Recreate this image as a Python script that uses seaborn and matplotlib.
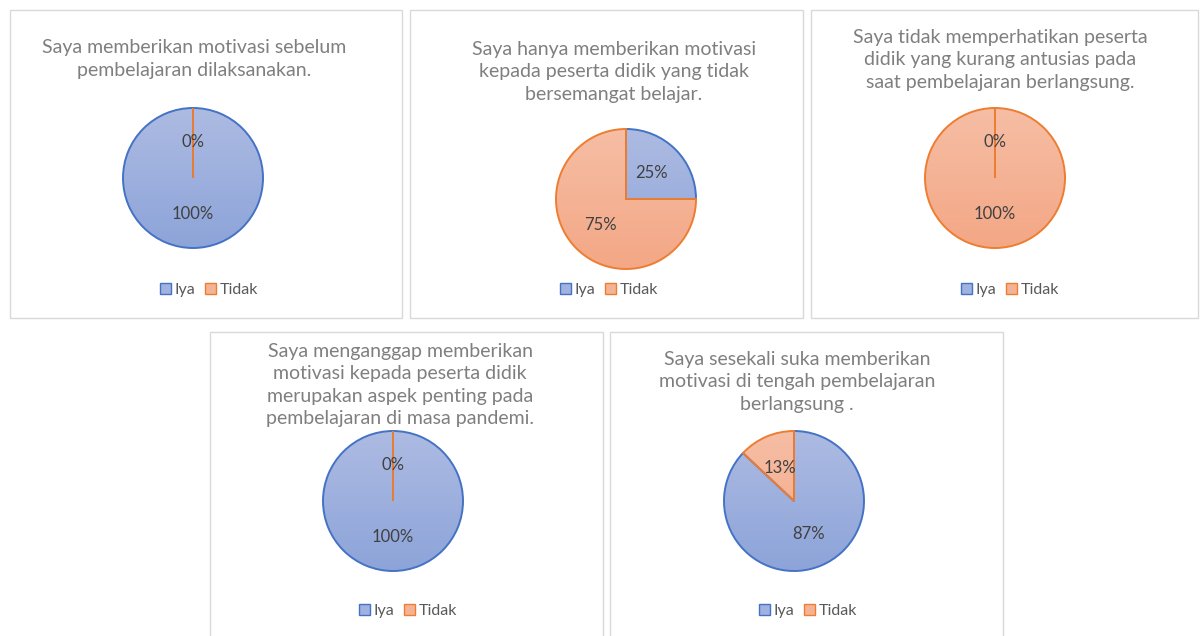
import matplotlib
matplotlib.use("Agg")
import numpy as np
import matplotlib.pyplot as plt
import seaborn as sns
from matplotlib.patches import Rectangle, Patch
from matplotlib.colors import LinearSegmentedColormap

# data
categories = ["Iya", "Tidak"]
titles = [
    "Saya memberikan motivasi sebelum\npembelajaran dilaksanakan.",
    "Saya hanya memberikan motivasi\nkepada peserta didik yang tidak\nbersemangat belajar.",
    "Saya tidak memperhatikan peserta\ndidik yang kurang antusias pada\nsaat pembelajaran berlangsung.",
    "Saya menganggap memberikan\nmotivasi kepada peserta didik\nmerupakan aspek penting pada\npembelajaran di masa pandemi.",
    "Saya sesekali suka memberikan\nmotivasi di tengah pembelajaran\nberlangsung .",
]
iya_pct = [100, 25, 0, 100, 87]
tidak_pct = [0, 75, 100, 0, 13]

# styling
fill_colors = ["#A0B2E0", "#F5B396"]
grad_top = ["#ADBBE2", "#F6BEA5"]
grad_bottom = ["#8DA4D9", "#F3A785"]
edge_colors = ["#4472C4", "#ED7D31"]
W, H = 1200, 636

# panel layout in pixels: box (x0, y0, x1, y1), pie centre, title centre, legend centre
boxes = [(10, 10, 402, 318), (410, 10, 803, 318), (811, 10, 1198, 318),
         (210, 332, 603, 645), (610, 332, 1003, 645)]
pie_centres = [(193, 178), (626, 199), (995, 178), (393, 501), (794, 501)]
title_centres = [(194, 59), (614, 72), (1000, 60), (400, 385), (797, 382)]
legend_centres = [(209, 290), (609, 290), (1010, 290), (408, 611), (808, 611)]
radius = 70

sns.set_style("white")
plt.rcParams["font.family"] = ["Lato", "DejaVu Sans"]

fig = plt.figure(figsize=(W / 100, H / 100), dpi=100)


def fx(x):
    return x / W


def fy(y):
    return 1 - y / H


grad = np.linspace(0, 1, 256).reshape(-1, 1)

for i in range(5):
    x0, y0, x1, y1 = boxes[i]
    fig.patches.append(Rectangle((fx(x0), fy(y1)), (x1 - x0) / W, (y1 - y0) / H,
                                 transform=fig.transFigure, facecolor="none",
                                 edgecolor="#D9D9D9", linewidth=1.0, zorder=-1))

    cx, cy = pie_centres[i]
    half = radius * 1.1
    ax = fig.add_axes([fx(cx - half), fy(cy + half), 2 * half / W, 2 * half / H])
    vals = [iya_pct[i], tidak_pct[i]]
    wedges, _, autotexts = ax.pie(
        vals, colors=fill_colors, startangle=90, counterclock=False,
        autopct=lambda p: f"{p:.0f}%", pctdistance=0.52,
        wedgeprops=dict(linewidth=1.4),
        textprops=dict(color="#404040", fontsize=12),
    )
    for k, (w, ec) in enumerate(zip(wedges, edge_colors)):
        # keep the radial edge of a full slice, like the original chart
        if abs(abs(w.theta2 - w.theta1) - 360) < 1e-6:
            w.set_theta2(w.theta2 - 1e-3)
        w.set_edgecolor(ec)
        cmap = LinearSegmentedColormap.from_list("g", [grad_bottom[k], grad_top[k]])
        im = ax.imshow(grad, extent=(-1, 1, -1, 1), origin="lower", cmap=cmap,
                       aspect="auto", zorder=1 + k, interpolation="bilinear")
        im.set_clip_path(w)
        w.set_facecolor("none")
        w.set_zorder(3)
    for t in autotexts:
        t.set_zorder(5)
    ax.set_xlim(-1.1, 1.1)
    ax.set_ylim(-1.1, 1.1)
    ax.set_aspect("equal")
    ax.axis("off")

    tx, ty = title_centres[i]
    fig.text(fx(tx), fy(ty), titles[i], ha="center", va="center",
             fontsize=14, color="#7F7F7F", linespacing=1.4)

    lx, ly = legend_centres[i]
    handles = [Patch(facecolor=fill_colors[k], edgecolor=edge_colors[k], linewidth=1.0)
               for k in range(2)]
    fig.legend(handles, categories, loc="center", bbox_to_anchor=(fx(lx), fy(ly)),
               ncol=2, frameon=False, handlelength=0.7, handleheight=0.7,
               handletextpad=0.2, columnspacing=0.6, fontsize=11.5,
               labelcolor="#595959")

fig.savefig("out.png", dpi=100)
